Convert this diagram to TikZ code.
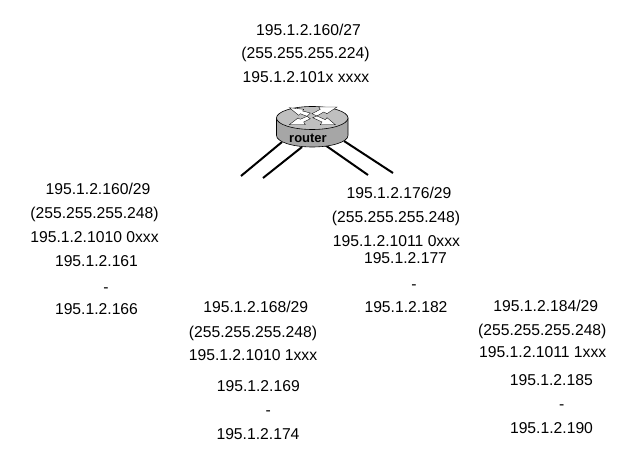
\documentclass[tikz,border=0pt]{standalone}
\usepackage{fontspec}
\setmainfont{Liberation Sans}
\tikzset{
  lbl/.style={inner sep=0pt,font=\fontsize{15.7}{16}\selectfont,anchor=base},
  wire/.style={line width=2pt,black},
  arrowshape/.style={fill=white,draw=black,line width=0.35pt}
}
\begin{document}
\begin{tikzpicture}[x=1pt,y=-1pt]
\useasboundingbox (0,0) rectangle (641,462);
\fill[white] (0,0) rectangle (641,462);
% wires
\coordinate (a1) at (282,142); \coordinate (a2) at (241,176);
\coordinate (b1) at (302,147); \coordinate (b2) at (263,178);
\coordinate (c1) at (325,145); \coordinate (c2) at (368,175);
\coordinate (d1) at (344,141); \coordinate (d2) at (393,173);
\draw[wire] (a1)--(a2); \draw[wire] (b1)--(b2); \draw[wire] (c1)--(c2); \draw[wire] (d1)--(d2);
% router
\draw[fill=black!35,line width=0.6pt] (276.5,118) -- (276.5,135.5) arc[start angle=180,end angle=0,x radius=35.75,y radius=11.5] -- (348,118) -- cycle;
\draw[fill=black!25,line width=0.6pt] (312.25,118) ellipse[x radius=35.75,y radius=11.5];
\draw[arrowshape] (289.3,107.7) -- (303.7,109.3) -- (302.7,111) -- (310.3,113) -- (307,116.3) -- (300.3,113.7) -- (298.7,115.3) -- cycle;
\draw[arrowshape] (337,107) -- (318.7,107) -- (320.3,109.3) -- (312,113.7) -- (317,116) -- (323.7,112) -- (327,113.7) -- cycle;
\draw[arrowshape] (289.3,124.7) -- (305.3,124.7) -- (303.7,122) -- (310.3,118.7) -- (307,116.3) -- (300.3,119.3) -- (298,118) -- cycle;
\draw[arrowshape] (335.3,124.7) -- (320.3,124.7) -- (322,122) -- (312.7,117.7) -- (317,116) -- (325.3,119.7) -- (327,117.7) -- cycle;
\node[inner sep=0pt,font=\bfseries\fontsize{13}{13}\selectfont] (router) at (308,138) {router};
% labels
\node[lbl] (t1) at (308.5,35.7) {195.1.2.160/27};
\node[lbl] (t2) at (305.5,58.7) {(255.255.255.224)};
\node[lbl] (t3) at (306,82.4) {195.1.2.101x xxxx};
\node[lbl] (l1) at (98,194.7) {195.1.2.160/29};
\node[lbl] (l2) at (94.5,218.7) {(255.255.255.248)};
\node[lbl] (l3) at (94.5,242.7) {195.1.2.1010 0xxx};
\node[lbl] (l4) at (96.5,266.7) {195.1.2.161};
\node[lbl] (l5) at (106,292.5) {-};
\node[lbl] (l6) at (96.5,314.7) {195.1.2.166};
\node[lbl] (m1) at (255.8,312.4) {195.1.2.168/29};
\node[lbl] (m2) at (253,337.4) {(255.255.255.248)};
\node[lbl] (m3) at (253,360.7) {195.1.2.1010 1xxx};
\node[lbl] (m4) at (258.3,391.4) {195.1.2.169};
\node[lbl] (m5) at (268.3,415.2) {-};
\node[lbl] (m6) at (258,440) {195.1.2.174};
\node[lbl] (r1) at (399,198.4) {195.1.2.176/29};
\node[lbl] (r2) at (396,222.4) {(255.255.255.248)};
\node[lbl] (r3) at (396.5,246.4) {195.1.2.1011 0xxx};
\node[lbl] (r4) at (405.5,264) {195.1.2.177};
\node[lbl] (r5) at (414,289.5) {-};
\node[lbl] (r6) at (406,312.4) {195.1.2.182};
\node[lbl] (s1) at (545.8,311.7) {195.1.2.184/29};
\node[lbl] (s2) at (542.3,335.7) {(255.255.255.248)};
\node[lbl] (s3) at (542.7,358) {195.1.2.1011 1xxx};
\node[lbl] (s4) at (551.3,385.7) {195.1.2.185};
\node[lbl] (s5) at (561.7,409.5) {-};
\node[lbl] (s6) at (551.5,433.4) {195.1.2.190};
\end{tikzpicture}
\end{document}
